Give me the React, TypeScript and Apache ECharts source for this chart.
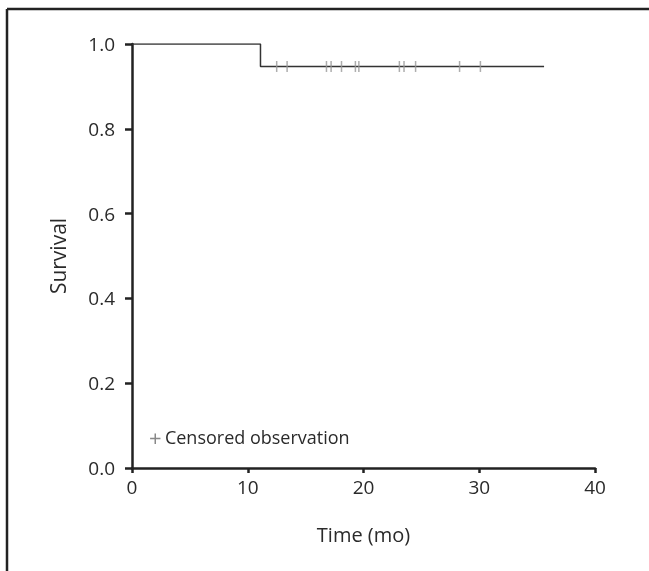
import React, { useEffect, useRef } from "react";
import * as echarts from "echarts";

const xTicks = [0, 10, 20, 30, 40];
const yTicks = [0, 0.2, 0.4, 0.6, 0.8, 1.0];
// Kaplan-Meier step curve points [time (mo), survival]
const kmTimes = [0, 11.1, 11.1, 35.6];
const kmSurvival = [1.0, 1.0, 0.947, 0.947];
// censored observation times
const censorTimes = [12.5, 13.4, 16.8, 17.2, 18.1, 19.3, 19.6, 23.1, 23.5, 24.5, 28.3, 30.1];
const censorSurvival = 0.947;

const FONT = "'Open Sans', Lato, sans-serif";
const DARK = "#222";
const TEXT = "#2a2a2a";

export default function App() {
  const ref = useRef<HTMLDivElement>(null);
  useEffect(() => {
    if (!ref.current) return;
    const chart = echarts.init(ref.current, null, { renderer: "svg" });
    chart.setOption({
      animation: false,
      grid: { left: 132, right: 54, top: 44, bottom: 103 },
      xAxis: {
        type: "value",
        min: xTicks[0],
        max: xTicks[xTicks.length - 1],
        interval: 10,
        name: "Time (mo)",
        nameLocation: "middle",
        nameGap: 56,
        nameTextStyle: { fontFamily: FONT, fontSize: 20, color: TEXT },
        axisLine: { show: true, lineStyle: { color: DARK, width: 2.5 } },
        axisTick: { show: true, length: 5, lineStyle: { color: DARK, width: 2.5 } },
        axisLabel: { margin: 9, fontFamily: FONT, fontSize: 19, color: TEXT },
        splitLine: { show: false },
      },
      yAxis: {
        type: "value",
        min: yTicks[0],
        max: yTicks[yTicks.length - 1],
        interval: 0.2,
        name: "Survival",
        nameLocation: "middle",
        nameGap: 64,
        nameTextStyle: { fontFamily: FONT, fontSize: 21, color: TEXT },
        axisLine: { show: true, lineStyle: { color: DARK, width: 2.5 } },
        axisTick: { show: true, length: 7, lineStyle: { color: DARK, width: 2.5 } },
        axisLabel: {
          margin: 17,
          fontFamily: FONT,
          fontSize: 19,
          color: TEXT,
          formatter: (v: number) => v.toFixed(1),
        },
        splitLine: { show: false },
      },
      series: [
        {
          type: "line",
          data: kmTimes.map((t, i) => [t, kmSurvival[i]]),
          showSymbol: false,
          symbol: "none",
          lineStyle: { color: "#333", width: 1.5 },
          z: 2,
        },
        {
          type: "scatter",
          data: censorTimes.map((t) => [t, censorSurvival]),
          symbol: "rect",
          symbolSize: [1.5, 11],
          itemStyle: { color: "#999" },
          z: 3,
        },
      ],
      graphic: [
        {
          type: "line",
          shape: { x1: 7, y1: 9, x2: 649, y2: 9 },
          style: { stroke: DARK, lineWidth: 2.5 },
        },
        {
          type: "line",
          shape: { x1: 7, y1: 9, x2: 7, y2: 571 },
          style: { stroke: DARK, lineWidth: 2.5 },
        },
        {
          type: "text",
          left: 149,
          top: 426,
          style: {
            text: "{p|+} {t|Censored observation}",
            rich: {
              p: { fontFamily: FONT, fontSize: 22, fill: "#888", verticalAlign: "middle" },
              t: { fontFamily: FONT, fontSize: 18, fill: TEXT, verticalAlign: "middle" },
            },
          },
        },
      ],
    });
    return () => chart.dispose();
  }, []);
  return (
    <div
      ref={ref}
      style={{ position: "fixed", left: 0, top: 0, width: 649, height: 571 }}
    />
  );
}
